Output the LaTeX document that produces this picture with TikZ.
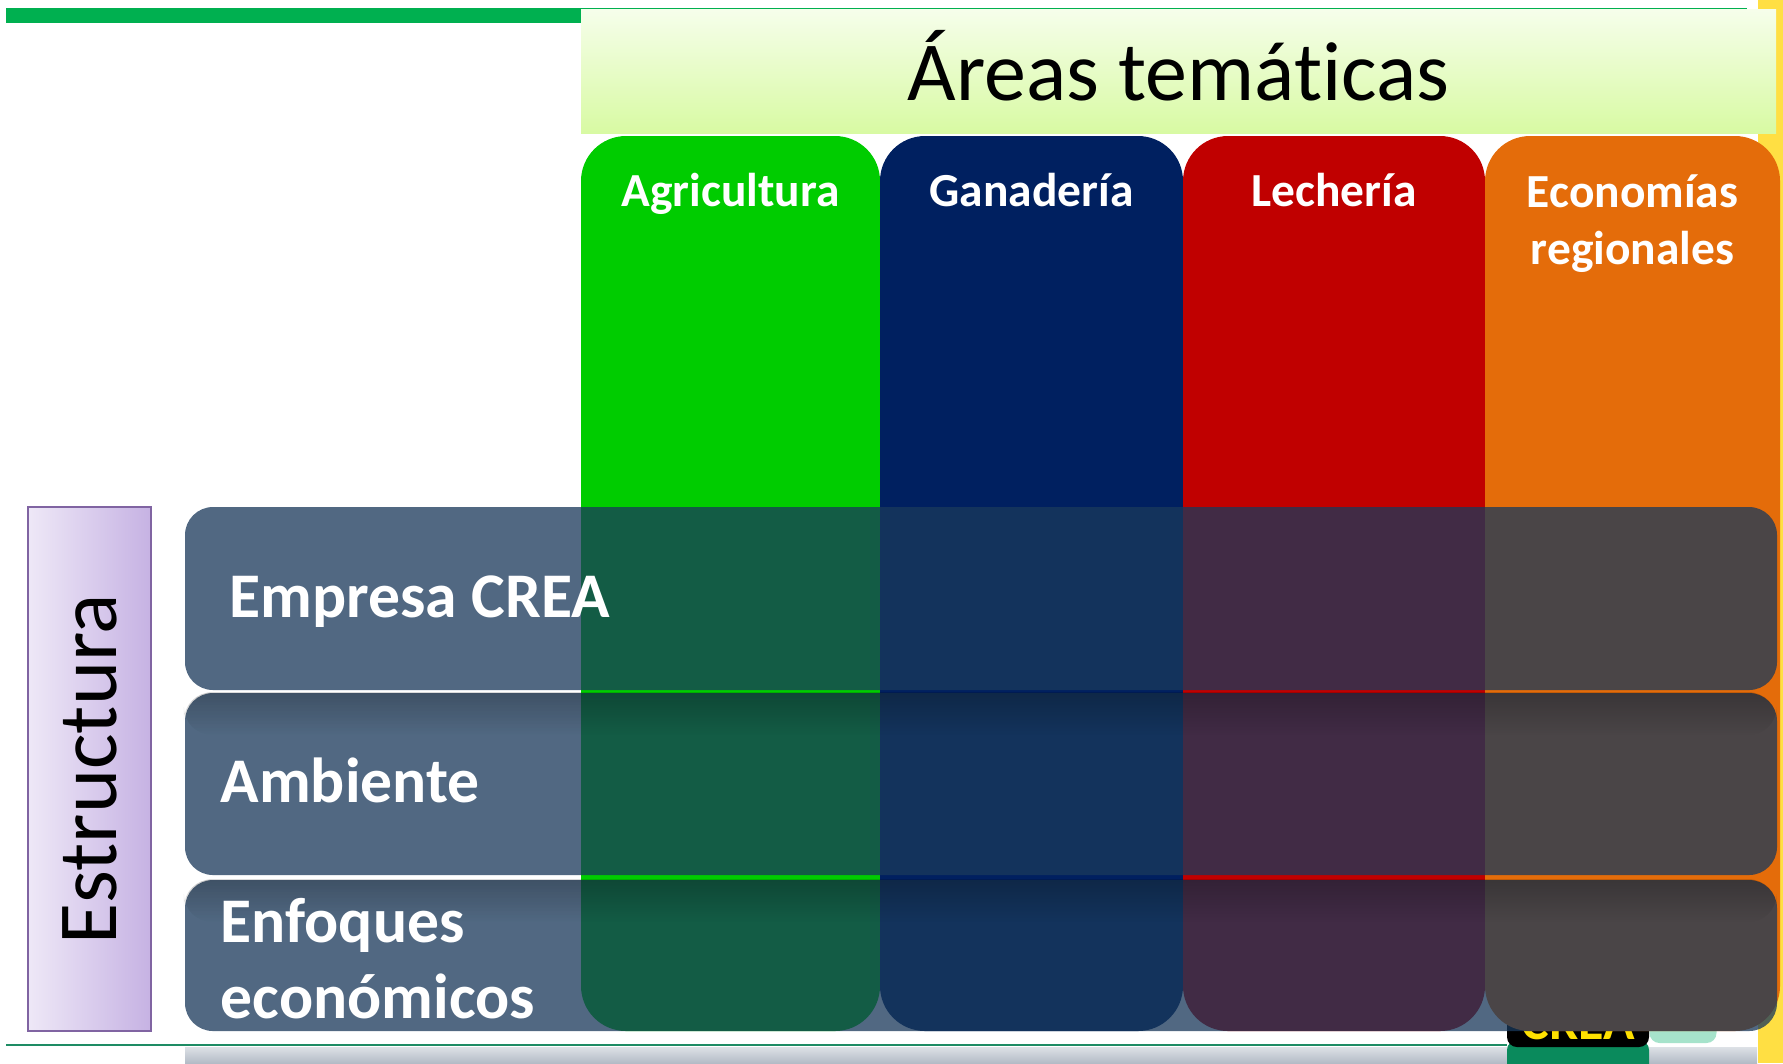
\documentclass[tikz,border=0pt]{standalone}
\usepackage{fontspec}
\setmainfont{Carlito}[Ligatures=CommonOff]
\usetikzlibrary{positioning,fadings}
\definecolor{creagreen}{HTML}{00B050}
\definecolor{bottomline}{HTML}{1E8C64}
\definecolor{stripyellow}{HTML}{FFDF43}
\definecolor{headtop}{HTML}{F6FEEB}
\definecolor{headbot}{HTML}{D8FAA3}
\definecolor{agrigreen}{HTML}{00CC00}
\definecolor{ganablue}{HTML}{002060}
\definecolor{lechred}{HTML}{C00000}
\definecolor{econorange}{HTML}{E46C0A}
\definecolor{rowblue}{HTML}{1A395B}
\definecolor{estleft}{HTML}{EEE8F7}
\definecolor{estright}{HTML}{C6B2E3}
\definecolor{estborder}{HTML}{8064A2}
\definecolor{logogreen}{HTML}{0A8A5C}
\definecolor{logoyellow}{HTML}{FFE100}
\definecolor{logoteal}{HTML}{A6E3CB}
\definecolor{bandtop}{HTML}{DDE1E6}
\definecolor{bandbot}{HTML}{B3BBC6}
\tikzset{
  areacol/.style={rectangle, rounded corners=4.5mm, minimum height=89.5mm, inner sep=0pt},
  arealabel/.style={text=white, font=\fontsize{13.5}{16.2}\selectfont\bfseries, align=center, anchor=base, inner sep=0pt},
  rowbox/.style={rectangle, rounded corners=2.8mm, fill=rowblue, fill opacity=0.76, minimum width=159.2mm, inner sep=0pt},
  rowshade/.style={fill=black, fill opacity=0.22, path fading=south, rounded corners=2.8mm},
  rowlabel/.style={text=white, font=\fontsize{18.1}{21.6}\selectfont\bfseries, align=left, anchor=base west, inner sep=0pt}
}
\begin{document}
\begin{tikzpicture}[x=0.1mm, y=-0.1mm]
\useasboundingbox (0,0) rectangle (1783,1063);
% slide frame
\fill[stripyellow] (1758,0) rectangle (1783,1063);
\fill[creagreen] (6,8) rectangle (581,23);
\draw[creagreen, line width=0.6pt] (581,9) -- (1747,9);
\shade[top color=bandtop, bottom color=bandbot] (185,1047) rectangle (1757,1063);
\draw[bottomline, line width=0.6pt] (6,1045) -- (1507,1045);
\node at (1683,1018) [rectangle, rounded corners=1mm, fill=logoteal, minimum width=6.7mm, minimum height=5mm] (teal) {};
\node at (1578,1060) [rectangle, rounded corners=1mm, fill=logogreen, minimum width=14.2mm, minimum height=4mm] (logobase) {};
\node at (1578,1010) [rectangle, rounded corners=1mm, fill=black, minimum width=14.2mm, minimum height=7.4mm] (logo) {};
\node at (1578,1039) [anchor=base, text=logoyellow, font=\fontsize{14.8}{16}\selectfont\bfseries, inner sep=0pt] (logotext) {CREA};
% header
\node at (1178.5,71) [rectangle, top color=headtop, bottom color=headbot, minimum width=119.5mm, minimum height=12.4mm] (header) {};
\node at (1178.5,100) [anchor=base, inner sep=0pt, font=\fontsize{23.9}{28.7}\selectfont] (title) {Áreas temáticas};
% columns
\node at (730.5,583.5) [areacol, fill=agrigreen, minimum width=29.9mm] (agri) {};
\node at (1031.5,583.5) [areacol, fill=ganablue, minimum width=30.3mm] (gana) {};
\node at (1334,583.5) [areacol, fill=lechred, minimum width=30.2mm] (lech) {};
\node at (1632.5,583.5) [areacol, fill=econorange, minimum width=29.5mm] (econ) {};
\node at (730.5,206) [arealabel] (agritxt) {Agricultura};
\node at (1031.5,206) [arealabel] (ganatxt) {Ganadería};
\node at (1334,206) [arealabel] (lechtxt) {Lechería};
\node at (1632.5,264) [arealabel] (econtxt) {Economías\\regionales};
% structure
\node at (89.5,769) [rectangle, left color=estleft, right color=estright, draw=estborder, line width=0.7pt, minimum width=12.3mm, minimum height=52.4mm] (estbox) {};
\node at (estbox.center) [rotate=90, font=\fontsize{23.9}{28.7}\selectfont] (esttxt) {Estructura};
\node at (981,598.5) [rowbox, minimum height=18.3mm] (empresa) {};
\node at (981,784) [rowbox, minimum height=18.2mm] (ambiente) {};
\node at (981,955.5) [rowbox, minimum height=15.1mm] (enfoques) {};
\fill[rowshade] (ambiente.west |- 0,735) -- (ambiente.north west) -- (ambiente.north east) -- (ambiente.east |- 0,735) -- cycle;
\fill[rowshade] (enfoques.west |- 0,922) -- (enfoques.north west) -- (enfoques.north east) -- (enfoques.east |- 0,922) -- cycle;
\node at (229,617) [rowlabel] (empresatxt) {Empresa CREA};
\node at (220,802) [rowlabel] (ambientetxt) {Ambiente};
\node at (220,1018) [rowlabel] (enfoquestxt) {Enfoques\\económicos};
\end{tikzpicture}
\end{document}
